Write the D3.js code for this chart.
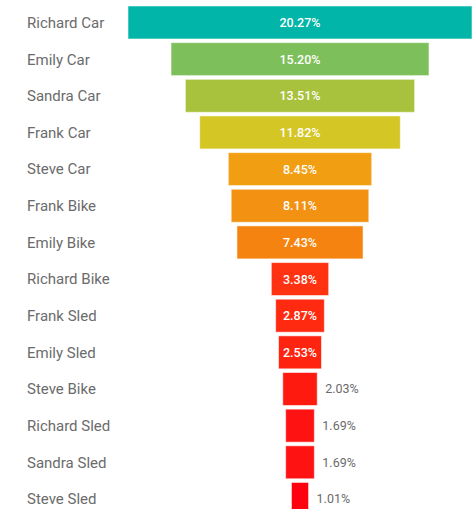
<!DOCTYPE html>
<html>
<head>
<meta charset="utf-8">
<script src="https://cdn.jsdelivr.net/npm/d3@7"></script>
<style>
  html, body { margin: 0; padding: 0; background: #fff; overflow: hidden; }
  svg { display: block; }
</style>
</head>
<body>
<div id="chart"></div>
<script>
// Share of rides by person and vehicle, largest first
const categories = [
  "Richard Car", "Emily Car", "Sandra Car", "Frank Car", "Steve Car",
  "Frank Bike", "Emily Bike", "Richard Bike", "Frank Sled", "Emily Sled",
  "Steve Bike", "Richard Sled", "Sandra Sled", "Steve Sled"
];
const shares = [20.27, 15.20, 13.51, 11.82, 8.45, 8.11, 7.43, 3.38, 2.87, 2.53, 2.03, 1.69, 1.69, 1.01];
const barColors = [
  "#01b5a8", "#7dbf5a", "#a9c23d", "#d4c624", "#f29e12", "#f39212", "#f4840f",
  "#ff3312", "#ff2a10", "#ff2410", "#ff1a10", "#ff1212", "#ff1212", "#ff0210"
];

const width = 476, height = 509;
const centerX = 300, maxWidth = 344;

const svg = d3.select("#chart").append("svg")
  .attr("width", width).attr("height", height);

const w = d3.scaleLinear().domain([0, d3.max(shares)]).range([0, maxWidth]);
const step = 36.65;
const y = d3.scaleBand().domain(categories)
  .range([6 - 0.1 * step, 6 - 0.1 * step + step * 14.1])
  .paddingInner(0.1).paddingOuter(0.1);

const data = categories.map((c, i) => ({ name: c, value: shares[i], color: barColors[i] }));

const row = svg.selectAll("g.row").data(data).join("g").attr("class", "row");

row.append("rect")
  .attr("x", d => centerX - w(d.value) / 2)
  .attr("y", d => y(d.name))
  .attr("width", d => w(d.value))
  .attr("height", y.bandwidth())
  .attr("fill", d => d.color)
  .attr("stroke", "rgba(255,255,255,0.55)")
  .attr("stroke-width", 1);

row.append("text")
  .attr("x", 27)
  .attr("y", d => y(d.name) + y.bandwidth() / 2)
  .attr("dy", "0.36em")
  .attr("font-family", "Roboto, 'Noto Sans', sans-serif")
  .attr("font-size", 15)
  .attr("fill", "#6b6b6b")
  .text(d => d.name);

const fmt = v => v.toFixed(2) + "%";
const inside = d => w(d.value) > 40;

row.append("text")
  .attr("x", d => inside(d) ? centerX : centerX + w(d.value) / 2 + 8)
  .attr("y", d => y(d.name) + y.bandwidth() / 2)
  .attr("dy", "0.36em")
  .attr("text-anchor", d => inside(d) ? "middle" : "start")
  .attr("font-family", "Roboto, 'Noto Sans', sans-serif")
  .attr("font-size", 12.5)
  .attr("font-weight", d => inside(d) ? 500 : 400)
  .attr("fill", d => inside(d) ? "#ffffff" : "#6b6b6b")
  .text(d => fmt(d.value));
</script>
</body>
</html>
